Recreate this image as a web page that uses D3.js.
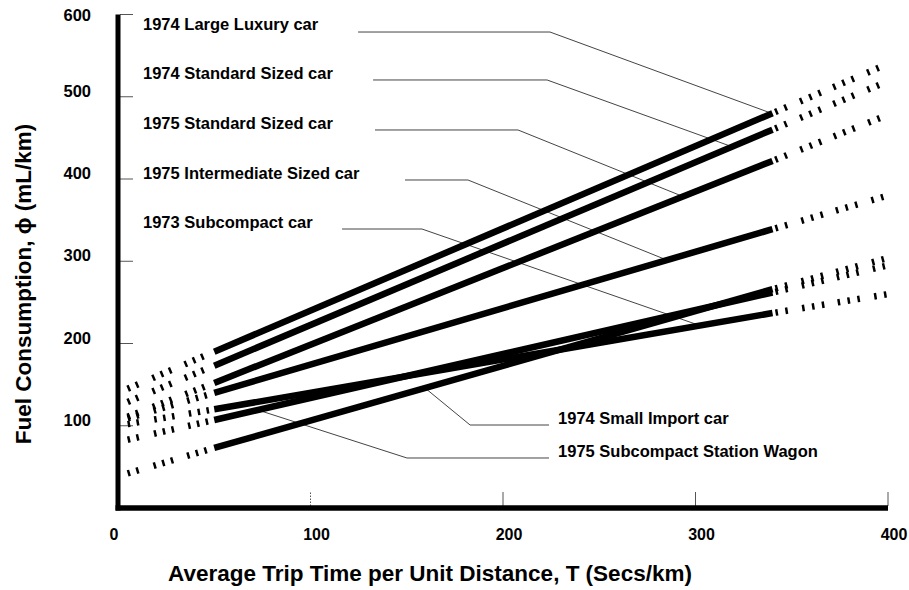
<!DOCTYPE html>
<html><head><meta charset="utf-8">
<script src="https://cdn.jsdelivr.net/npm/d3@7/dist/d3.min.js"></script>
<style>
html,body{margin:0;padding:0;background:#fff;}
svg text{font-family:"Liberation Sans",Arial,Helvetica,sans-serif;font-weight:bold;fill:#000;}
</style></head>
<body><svg id="chart" width="909" height="590"></svg>
<script>
// ---- data ----
const seriesNames = [
  "1974 Large Luxury car",
  "1974 Standard Sized car",
  "1975 Standard Sized car",
  "1975 Intermediate Sized car",
  "1973 Subcompact car",
  "1975 Subcompact Station Wagon",
  "1974 Small Import car"
];
// T positions: start of dotted, start of solid, end of solid, end of dotted
const tPoints = [5, 50, 340, 400];
const luxury74      = [145, 190, 480, 540];
const standard74    = [129, 173, 460, 519];
const standard75    = [111, 152, 422, 478];
const intermediate75= [109, 140, 339, 380];
const subcompact73  = [102, 120, 237, 260];
const wagon75       = [ 83, 107, 262, 295];
const smallImport74 = [ 42,  73, 266, 304];
const seriesValues = [luxury74, standard74, standard75, intermediate75, subcompact73, wagon75, smallImport74];

// Labels (T, phi of baseline) and leader lines (phi level, start T, elbow T, target T on series)
const labelT      = [13, 13, 13, 13, 13, 228.6, 228.6];
const labelPhi    = [581, 521.6, 460.8, 400, 340.4, 62, 102];
const leaderPhi   = [578.7, 520.4, 459.6, 398.8, 339.2, 60.8, 100.9];
const leaderStartT= [124.7, 132.5, 133.5, 149.1, 116.4, 223.9, 223.9];
const leaderElbowT= [224.4, 222.9, 207.8, 181.8, 157.9, 150.1, 182.9];
const leaderTargetT=[339.7, 319, 293.5, 285.2, 302.3, 72.7, 159.5];

const xTicks = [0, 100, 200, 300, 400];
const yTicks = [100, 200, 300, 400, 500, 600];
const xTitle = "Average Trip Time per Unit Distance, T (Secs/km)";
const yTitle = "Fuel Consumption, \u03D5 (mL/km)";

// ---- drawing ----
const svg = d3.select("#chart");
const x = d3.scaleLinear().domain([0, 400]).range([118, 888]);
const y = d3.scaleLinear().domain([0, 600]).range([508, 14.5]);

// value on series line at T (linear between read points)
function valueAt(vals, t) {
  const s = d3.scaleLinear().domain(tPoints).range(vals);
  return s(t);
}

// ticks
const tickColor = "#555";
svg.append("g").selectAll("line").data(yTicks).join("line")
  .attr("x1", x(0) + 2).attr("x2", x(0) + 15)
  .attr("y1", d => y(d)).attr("y2", d => y(d))
  .attr("stroke", tickColor).attr("stroke-width", 1);
svg.append("g").selectAll("line").data(xTicks.slice(1)).join("line")
  .attr("x1", d => x(d)).attr("x2", d => x(d))
  .attr("y1", y(0) - 2).attr("y2", y(0) - 16)
  .attr("stroke", tickColor).attr("stroke-width", 1)
  .attr("stroke-dasharray", d => d === 100 ? "1.5,1.5" : null);

// axis lines
svg.append("line").attr("x1", x(0)).attr("x2", x(0)).attr("y1", y(600)).attr("y2", y(0) + 2.5)
  .attr("stroke", "#000").attr("stroke-width", 5);
svg.append("line").attr("x1", x(0) - 2.5).attr("x2", x(400)).attr("y1", y(0)).attr("y2", y(0))
  .attr("stroke", "#000").attr("stroke-width", 5.5);

// tick labels
svg.append("g").selectAll("text").data(yTicks).join("text")
  .attr("x", 91).attr("y", d => y(d) + (d === 600 ? 6 : 0))
  .attr("text-anchor", "end").attr("font-size", 16.5)
  .text(d => d);
svg.append("g").selectAll("text").data(xTicks).join("text")
  .attr("x", d => x(d) + (d === 0 ? -4 : 6)).attr("y", 540)
  .attr("text-anchor", "middle").attr("font-size", 16)
  .text(d => d);

// axis titles
svg.append("text").attr("x", 168).attr("y", 581).attr("font-size", 22.5).text(xTitle);
svg.append("text").attr("transform", "translate(31,284) rotate(-90)")
  .attr("text-anchor", "middle").attr("font-size", 22.5).text(yTitle);

// leader lines
const leaders = seriesNames.map((n, i) => {
  const tt = leaderTargetT[i];
  return [
    [x(leaderStartT[i]), y(leaderPhi[i])],
    [x(leaderElbowT[i]), y(leaderPhi[i])],
    [x(tt), y(valueAt(seriesValues[i], tt))]
  ];
});
svg.append("g").selectAll("path").data(leaders).join("path")
  .attr("d", d3.line())
  .attr("fill", "none").attr("stroke", "#444").attr("stroke-width", 1);

// dotted extensions
const leftDash = "2.5,6.5,2.5,15.5,2.5,6.5,2.5,6.5,2.5,14.5,2.5,6.5,2.5,6.5,2.5,300";
const rightDash = "0,3,2.5,7.5,2.5,14.5,2.5,7.5,2.5,7.5,2.5,13.5,2.5,7.5,2.5,7.5,2.5,14.5,2.5,7.5,2.5,300";
const gLines = svg.append("g");
seriesValues.forEach(vals => {
  gLines.append("line")
    .attr("x1", x(tPoints[0])).attr("y1", y(vals[0]))
    .attr("x2", x(tPoints[1])).attr("y2", y(vals[1]))
    .attr("stroke", "#000").attr("stroke-width", 6.5)
    .attr("stroke-dasharray", leftDash);
  gLines.append("line")
    .attr("x1", x(tPoints[2])).attr("y1", y(vals[2]))
    .attr("x2", x(tPoints[3])).attr("y2", y(vals[3]))
    .attr("stroke", "#000").attr("stroke-width", 6.5)
    .attr("stroke-dasharray", rightDash);
});
// solid segments
gLines.selectAll("line.solid").data(seriesValues).join("line")
  .attr("class", "solid")
  .attr("x1", x(tPoints[1])).attr("y1", d => y(d[1]))
  .attr("x2", x(tPoints[2])).attr("y2", d => y(d[2]))
  .attr("stroke", "#000").attr("stroke-width", 6.5);

// series labels
svg.append("g").selectAll("text").data(seriesNames).join("text")
  .attr("x", (d, i) => x(labelT[i])).attr("y", (d, i) => y(labelPhi[i]))
  .attr("font-size", 16.5)
  .text(d => d);
</script></body></html>
